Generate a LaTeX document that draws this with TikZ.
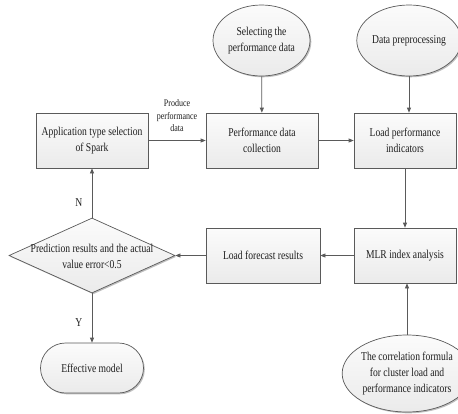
\documentclass[tikz,border=0pt]{standalone}
\usepackage{fontspec}
\setmainfont{Liberation Serif}[FakeStretch=0.8]
\usetikzlibrary{shapes.geometric,arrows.meta,shadows}

\definecolor{edge}{HTML}{5A5A5A}
\definecolor{ink}{HTML}{1E1E1E}

\tikzset{
  shapefill/.style={draw=edge, line width=0.7pt, top color=gray!3, bottom color=gray!16,
    drop shadow={shadow xshift=1.3pt, shadow yshift=-1.3pt, fill=gray!50, opacity=1}},
  procbox/.style={shapefill, rectangle, inner sep=0pt, minimum height=55pt,
    text=ink, align=center, font=\fontsize{12}{16}\selectfont},
  oval/.style={shapefill, ellipse, inner sep=0pt, text=ink, align=center,
    font=\fontsize{12}{16}\selectfont},
  decision/.style={shapefill, diamond, inner sep=0pt, minimum width=166pt, minimum height=75pt},
  terminal/.style={shapefill, rectangle, rounded corners=25pt, inner sep=0pt,
    minimum width=103pt, minimum height=50pt, text=ink, font=\fontsize{12}{16}\selectfont},
  flow/.style={draw=edge, line width=0.7pt, -{Triangle[length=5pt,width=4pt]}},
  txt/.style={text=ink, align=center, font=\fontsize{12}{16}\selectfont},
  small/.style={text=ink, align=center, font=\fontsize{10}{12.5}\selectfont},
}

\begin{document}
\begin{tikzpicture}[x=1pt, y=-1pt]
  \useasboundingbox (0,0) rectangle (458,413);

  % top row
  \node[procbox, minimum width=112pt] (app)  at (92,140.5)  {Application type selection\\of Spark};
  \node[procbox, minimum width=112pt] (coll) at (262,140.5) {Performance data\\collection};
  \node[procbox, minimum width=102pt] (load) at (405,140.5) {Load performance\\indicators};

  % inputs above
  \node[oval, minimum width=97pt, minimum height=71pt] (sel) at (261.5,40.5) {Selecting the\\performance data};
  \node[oval, minimum width=96pt, minimum height=71pt] (pre) at (409,40.5) {Data preprocessing};

  % middle row
  \node[procbox, minimum width=102pt] (mlr)  at (405,255.5) {MLR index analysis};
  \node[procbox, minimum width=114pt] (fore) at (263,255.5) {Load forecast results};
  \node[decision] (dia) at (92,255.5) {};
  \node[txt] (dialabel) at (92,256) {Prediction results and the actual\\value error<0.5};

  % bottom
  \node[terminal] (eff) at (92,368) {Effective model};
  \node[oval, minimum width=100pt, minimum height=77pt] (corr) at (407,373.5)
    {The correlation formula\\for cluster load and\\performance indicators};

  % connectors
  \draw[flow] (app) -- node[small, above=5pt] (prod) {Produce\\performance\\data} (coll);
  \draw[flow] (coll) -- (load);
  \draw[flow] (sel) -- (coll);
  \draw[flow] (pre.south) -- (pre.south |- load.north);
  \draw[flow] (load) -- (mlr);
  \draw[flow] (corr.north) -- (corr.north |- mlr.south);
  \draw[flow] (mlr) -- (fore);
  \draw[flow] (fore) -- (dia);
  \draw[flow] (dia.north) -- node[txt, left=6pt, pos=0.3] (nlab) {N} (app.south);
  \draw[flow] (dia.south) -- node[txt, left=6pt, pos=0.6] (ylab) {Y} (eff.north);
\end{tikzpicture}
\end{document}
